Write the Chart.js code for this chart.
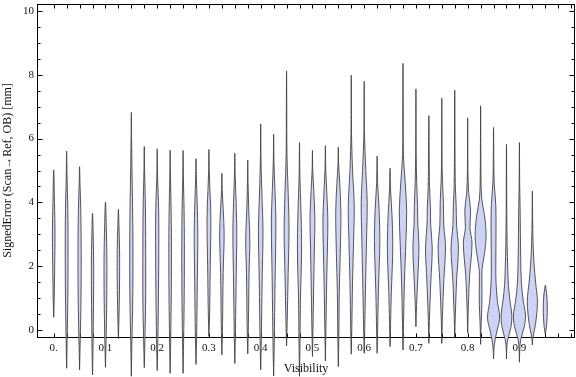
<!DOCTYPE html>
<html>
<head>
<meta charset="utf-8">
<script src="https://cdn.jsdelivr.net/npm/chart.js@4/dist/chart.umd.min.js"></script>
<style>
  html, body { margin: 0; padding: 0; background: #fff; }
  canvas { display: block; }
</style>
</head>
<body>
<canvas id="violinChart" width="576" height="377"></canvas>
<script>
// Visibility bins (violin centres)
const positions = [0, 0.025, 0.05, 0.075, 0.1, 0.125, 0.15, 0.175, 0.2, 0.225,
    0.25, 0.275, 0.3, 0.325, 0.35, 0.375, 0.4, 0.425, 0.45, 0.475,
    0.5, 0.525, 0.55, 0.575, 0.6, 0.625, 0.65, 0.675, 0.7, 0.725,
    0.75, 0.775, 0.8, 0.825, 0.85, 0.875, 0.9, 0.925, 0.95];

// min / max of signed error in each bin [mm]
const lows = [0.4, -1.2, -1.25, -1.41, -1.17, -0.27, -1.45, -1.18, -1.27, -1.36,
    -1.36, -1.08, -0.2, -0.78, -1.05, -0.75, -1.25, -1.44, -0.5, -1.45,
    -0.83, -0.97, -1.15, -0.76, -0.73, -0.73, -0.52, -0.63, 0.1, -0.42,
    -0.42, -0.26, -0.1, -0.45, -0.91, -0.91, -1.01, -0.47, -0.13];
const highs = [5.02, 5.61, 5.12, 3.66, 4.01, 3.79, 6.82, 5.75, 5.68, 5.64,
    5.63, 5.37, 5.66, 4.91, 5.54, 5.33, 6.46, 6.14, 8.12, 5.88,
    5.63, 5.78, 5.73, 7.99, 7.8, 5.45, 5.07, 8.36, 7.56, 6.72,
    7.27, 7.52, 6.65, 7.03, 6.35, 5.82, 5.88, 4.36, 1.4];

// density profile of each bin: [error, relative density]
const profiles = [
    [[1.0, 0.08], [2.0, 0.15], [3.0, 0.2], [4.0, 0.12]],
    [[-0.3, 0.08], [1.0, 0.18], [2.5, 0.22], [3.8, 0.18], [4.8, 0.06]],
    [[-0.3, 0.1], [1.0, 0.22], [2.5, 0.25], [3.8, 0.18], [4.6, 0.06]],
    [[-0.5, 0.08], [0.8, 0.15], [2.0, 0.18], [3.0, 0.1]],
    [[-0.3, 0.1], [1.0, 0.2], [2.2, 0.22], [3.3, 0.12]],
    [[0.5, 0.1], [1.5, 0.18], [2.5, 0.18], [3.3, 0.08]],
    [[-0.5, 0.08], [1.0, 0.22], [2.2, 0.25], [3.5, 0.22], [4.8, 0.12], [6.0, 0.04]],
    [[-0.3, 0.1], [1.0, 0.22], [2.5, 0.22], [3.8, 0.18], [5.0, 0.05]],
    [[-0.3, 0.1], [1.2, 0.2], [2.8, 0.25], [3.8, 0.22], [4.8, 0.06]],
    [[-0.4, 0.08], [1.2, 0.18], [2.8, 0.2], [3.8, 0.15], [4.8, 0.05]],
    [[-0.4, 0.08], [1.2, 0.18], [2.8, 0.2], [3.8, 0.15], [4.8, 0.05]],
    [[-0.2, 0.1], [1.5, 0.2], [3.0, 0.28], [4.0, 0.18], [4.8, 0.05]],
    [[0.5, 0.1], [2.0, 0.2], [3.5, 0.3], [4.4, 0.15], [5.0, 0.05]],
    [[0.2, 0.1], [1.8, 0.2], [3.0, 0.35], [3.8, 0.2], [4.4, 0.05]],
    [[0.0, 0.1], [1.8, 0.22], [3.0, 0.3], [4.0, 0.2], [4.9, 0.05]],
    [[0.2, 0.1], [1.8, 0.2], [2.8, 0.32], [3.8, 0.15], [4.6, 0.05]],
    [[-0.3, 0.1], [1.5, 0.22], [3.1, 0.35], [4.2, 0.2], [5.3, 0.05]],
    [[-0.4, 0.1], [1.5, 0.22], [3.4, 0.35], [4.4, 0.2], [5.3, 0.05]],
    [[0.3, 0.1], [1.8, 0.25], [3.1, 0.38], [4.3, 0.25], [5.5, 0.06], [7.0, 0.03]],
    [[-0.4, 0.08], [1.0, 0.15], [2.0, 0.28], [2.8, 0.32], [3.8, 0.22], [4.8, 0.06]],
    [[0.0, 0.08], [1.5, 0.2], [2.6, 0.3], [3.5, 0.38], [4.4, 0.2], [5.0, 0.05]],
    [[0.0, 0.08], [1.5, 0.2], [2.6, 0.32], [3.45, 0.38], [4.4, 0.2], [5.1, 0.05]],
    [[-0.2, 0.08], [1.2, 0.15], [2.4, 0.3], [3.7, 0.4], [4.6, 0.22], [5.2, 0.05]],
    [[0.0, 0.08], [1.5, 0.2], [2.8, 0.36], [3.9, 0.46], [5.0, 0.2], [6.2, 0.04]],
    [[0.0, 0.08], [1.3, 0.2], [2.8, 0.36], [4.0, 0.46], [5.0, 0.25], [6.2, 0.04]],
    [[0.0, 0.08], [1.2, 0.2], [2.0, 0.32], [2.8, 0.42], [3.8, 0.3], [4.6, 0.08]],
    [[0.2, 0.08], [1.2, 0.2], [2.0, 0.35], [2.7, 0.42], [3.6, 0.3], [4.4, 0.08]],
    [[0.2, 0.08], [1.5, 0.22], [2.8, 0.45], [3.7, 0.57], [4.6, 0.35], [5.5, 0.06], [7.0, 0.03]],
    [[0.8, 0.1], [1.6, 0.28], [2.6, 0.47], [3.3, 0.3], [3.9, 0.25], [4.6, 0.12], [5.5, 0.04]],
    [[0.3, 0.08], [1.5, 0.3], [2.57, 0.52], [3.3, 0.28], [3.8, 0.25], [4.5, 0.1]],
    [[0.3, 0.08], [1.5, 0.3], [2.6, 0.57], [3.3, 0.3], [4.0, 0.25], [4.7, 0.1], [5.5, 0.03]],
    [[0.4, 0.08], [1.6, 0.3], [2.55, 0.57], [3.3, 0.28], [3.9, 0.22], [4.6, 0.08]],
    [[0.6, 0.08], [1.7, 0.3], [2.72, 0.67], [3.2, 0.35], [3.76, 0.45], [4.3, 0.15], [5.0, 0.04]],
    [[0.2, 0.08], [0.8, 0.2], [1.5, 0.2], [1.9, 0.22], [2.4, 0.6], [2.95, 0.85], [3.6, 0.6], [4.1, 0.18], [4.8, 0.06]],
    [[-0.5, 0.1], [-0.1, 0.45], [0.37, 0.93], [0.9, 0.6], [1.5, 0.38], [2.1, 0.35], [3.0, 0.38], [3.9, 0.35], [4.6, 0.1], [5.3, 0.04]],
    [[-0.5, 0.06], [-0.3, 0.2], [0.1, 0.7], [0.47, 0.83], [0.9, 0.55], [1.4, 0.3], [1.9, 0.2], [2.7, 0.1], [3.6, 0.05]],
    [[-0.6, 0.06], [-0.3, 0.2], [0.1, 0.75], [0.47, 0.93], [0.9, 0.6], [1.5, 0.3], [2.2, 0.2], [3.0, 0.15], [3.9, 0.1], [4.6, 0.04]],
    [[-0.25, 0.08], [0.2, 0.5], [0.89, 0.78], [1.5, 0.5], [2.1, 0.25], [2.8, 0.1], [3.5, 0.04]],
    [[0.1, 0.18], [0.4, 0.28], [0.69, 0.31], [1.0, 0.26], [1.25, 0.13]]
];

const xTickValues = [0, 0.1, 0.2, 0.3, 0.4, 0.5, 0.6, 0.7, 0.8, 0.9];
const xTickLabels = ['0.', '0.1', '0.2', '0.3', '0.4', '0.5', '0.6', '0.7', '0.8', '0.9'];
const yTickValues = [0, 2, 4, 6, 8, 10];
const yTickLabels = ['0', '2', '4', '6', '8', '10'];

const halfSlot = 0.0125;
const serif = '"Liberation Serif", "DejaVu Serif", serif';
const fillColor = 'rgb(205, 211, 245)';
const edgeColor = 'rgba(60, 60, 60, 0.85)';

// fill each closed violin outline before the line itself is stroked
const violinFill = {
    id: 'violinFill',
    beforeDatasetDraw(chart, args) {
        const line = args.meta.dataset;
        if (!line || !line.points || !line.points.length) return;
        const ctx = chart.ctx;
        line.updateControlPoints(chart.chartArea, 'x');
        ctx.save();
        ctx.beginPath();
        line.path(ctx);
        ctx.closePath();
        ctx.fillStyle = fillColor;
        ctx.fill();
        ctx.restore();
    }
};

// Mathematica-like frame with inward ticks on all four sides
const frameTicks = {
    id: 'frameTicks',
    beforeDatasetsDraw(chart) {
        const { ctx, chartArea: a, scales: { x, y } } = chart;
        const L = Math.round(a.left) + 0.5, R = Math.round(a.right) - 0.5;
        const T = Math.round(a.top) + 0.5, B = Math.round(a.bottom) + 0.5;
        ctx.save();
        ctx.strokeStyle = '#000';
        ctx.lineWidth = 1;
        ctx.strokeRect(L, T, R - L, B - T);
        ctx.beginPath();
        const xMarks = positions.concat([0.975, 1.0]);
        xMarks.forEach(v => {
            const px = Math.round(x.getPixelForValue(v)) + 0.5;
            ctx.moveTo(px, B); ctx.lineTo(px, B - 4);
            ctx.moveTo(px, T); ctx.lineTo(px, T + 4);
        });
        for (let k = 0; k <= 20; k++) {
            const v = k * 0.5;
            const len = (k % 4 === 0) ? 5 : 3;
            const py = Math.round(y.getPixelForValue(v)) + 0.5;
            ctx.moveTo(L, py); ctx.lineTo(L + len, py);
            ctx.moveTo(R, py); ctx.lineTo(R - len, py);
        }
        ctx.stroke();
        ctx.restore();
    }
};

const datasets = positions.map((pos, i) => {
    const knots = profiles[i];
    const pts = [{ x: pos, y: lows[i] }];
    knots.forEach(([v, w]) => pts.push({ x: pos + w * halfSlot, y: v }));
    pts.push({ x: pos, y: highs[i] });
    knots.slice().reverse().forEach(([v, w]) => pts.push({ x: pos - w * halfSlot, y: v }));
    pts.push({ x: pos, y: lows[i] });
    return {
        data: pts,
        showLine: true,
        pointRadius: 0,
        borderColor: edgeColor,
        borderWidth: 1,
        tension: 0.35,
        capBezierPoints: false,
        fill: false,
        clip: false
    };
});

const ctx = document.getElementById('violinChart').getContext('2d');
const violinChart = new Chart(ctx, {
    type: 'scatter',
    data: { datasets: datasets },
    options: {
        responsive: false,
        animation: false,
        devicePixelRatio: 1,
        layout: { padding: { top: 4, right: 1, left: 0, bottom: 0 } },
        plugins: {
            legend: { display: false },
            tooltip: { enabled: false }
        },
        scales: {
            x: {
                type: 'linear',
                min: -0.0323,
                max: 1.0074,
                afterBuildTicks: s => { s.ticks = xTickValues.map(v => ({ value: v })); },
                afterFit: s => {
                    s.height = 40;
                    s.paddingLeft = 0; s.paddingRight = 0;
                },
                grid: { display: false, drawTicks: false },
                border: { display: false },
                ticks: {
                    autoSkip: false,
                    maxRotation: 0,
                    padding: 5,
                    color: '#111',
                    font: { family: serif, size: 11 },
                    callback: (v, i) => xTickLabels[i]
                },
                title: {
                    display: true,
                    text: 'Visibility',
                    color: '#111',
                    font: { family: serif, size: 12 },
                    padding: { top: 1, bottom: 1 }
                }
            },
            y: {
                type: 'linear',
                min: -0.22,
                max: 10.22,
                afterBuildTicks: s => { s.ticks = yTickValues.map(v => ({ value: v })); },
                afterFit: s => {
                    s.width = 37;
                    s.paddingTop = 0; s.paddingBottom = 0;
                },
                grid: { display: false, drawTicks: false },
                border: { display: false },
                ticks: {
                    padding: 3,
                    color: '#111',
                    font: { family: serif, size: 11 },
                    callback: (v, i) => yTickLabels[i]
                },
                title: {
                    display: true,
                    text: 'SignedError (Scan\u2192Ref, OB) [mm]',
                    color: '#111',
                    font: { family: serif, size: 12 },
                    padding: { top: 1, bottom: 1 }
                }
            }
        }
    },
    plugins: [frameTicks, violinFill]
});
</script>
</body>
</html>
